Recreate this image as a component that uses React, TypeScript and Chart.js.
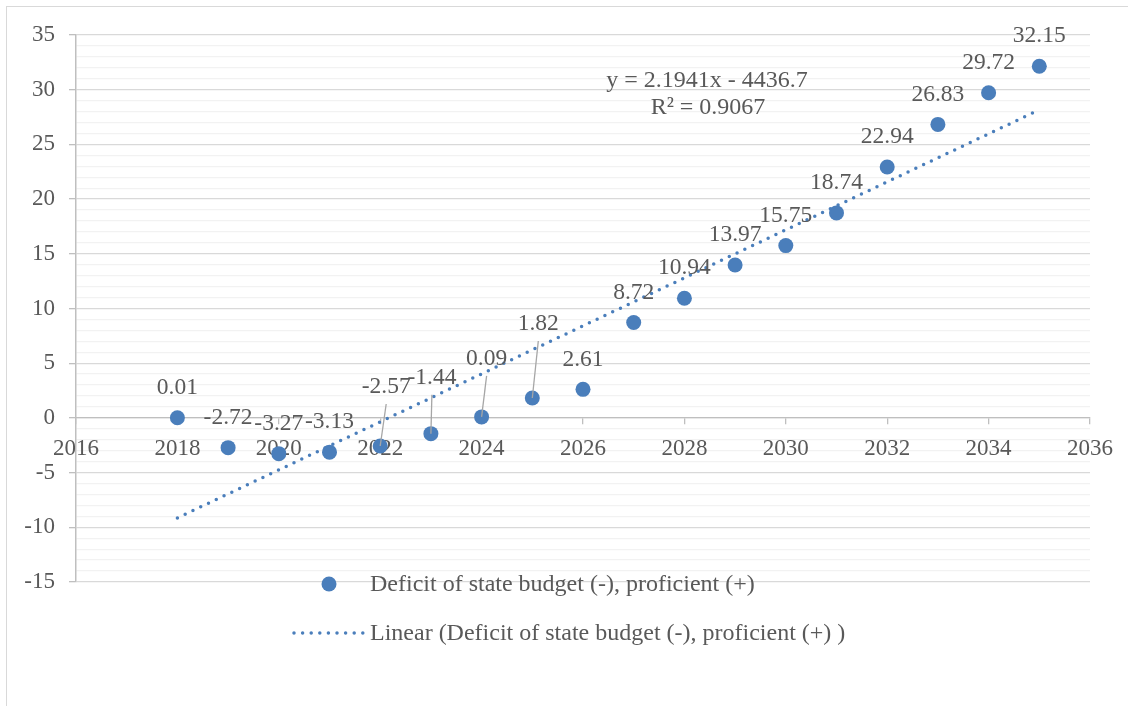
import React, { useEffect, useRef } from 'react';
import { Chart, registerables } from 'chart.js';

Chart.register(...registerables);

const years = [2018, 2019, 2020, 2021, 2022, 2023, 2024, 2025, 2026, 2027, 2028, 2029, 2030, 2031, 2032, 2033, 2034, 2035];
const values = [0.01, -2.72, -3.27, -3.13, -2.57, -1.44, 0.09, 1.82, 2.61, 8.72, 10.94, 13.97, 15.75, 18.74, 22.94, 26.83, 29.72, 32.15];
const valueLabels = ['0.01', '-2.72', '-3.27', '-3.13', '-2.57', '-1.44', '0.09', '1.82', '2.61', '8.72', '10.94', '13.97', '15.75', '18.74', '22.94', '26.83', '29.72', '32.15'];
const xMin = 2016;
const xMax = 2036;
const xStep = 2;
const yMin = -15;
const yMax = 35;
const yMajorStep = 5;
const seriesName = 'Deficit of state budget (-), proficient (+)';
const trendName = 'Linear (Deficit of state budget (-), proficient (+) )';
const equationText = 'y = 2.1941x - 4436.7';
const r2Text = 'R² = 0.9067';

// label nudges (px) for labels that Excel moved away from the default "above" spot
const labelNudges: Record<number, [number, number]> = {
  4: [6, -29],
  5: [1, -26],
  6: [5, -28],
  7: [6, -44],
};

const FONT = '"Liberation Serif", "Times New Roman", serif';
const TEXT = '#595959';
const BLUE = '#4a7ebb';

function linearFit(xs: number[], ys: number[]) {
  const n = xs.length;
  const mx = xs.reduce((a, b) => a + b, 0) / n;
  const my = ys.reduce((a, b) => a + b, 0) / n;
  let sxy = 0;
  let sxx = 0;
  for (let i = 0; i < n; i++) {
    sxy += (xs[i] - mx) * (ys[i] - my);
    sxx += (xs[i] - mx) * (xs[i] - mx);
  }
  const slope = sxy / sxx;
  return { slope, intercept: my - slope * mx };
}

const overlayPlugin = {
  id: 'overlay',
  afterDatasetsDraw(chart: any) {
    const ctx = chart.ctx;
    const meta = chart.getDatasetMeta(0);
    ctx.save();
    ctx.font = `23.5px ${FONT}`;
    ctx.fillStyle = TEXT;
    ctx.textAlign = 'center';
    ctx.textBaseline = 'middle';
    meta.data.forEach((el: any, i: number) => {
      const nudge = labelNudges[i];
      const lx = el.x + (nudge ? nudge[0] : 0);
      const ly = el.y - 30 + (nudge ? nudge[1] : 0);
      if (nudge) {
        ctx.save();
        ctx.strokeStyle = '#a6a6a6';
        ctx.lineWidth = 1.3;
        ctx.beginPath();
        ctx.moveTo(lx, ly + 17);
        ctx.lineTo(el.x, el.y);
        ctx.stroke();
        ctx.restore();
      }
      ctx.fillText(valueLabels[i], lx, ly);
    });

    // trendline equation
    ctx.font = `24px ${FONT}`;
    ctx.fillText(equationText, 707, 81);
    ctx.fillText(r2Text, 708, 108);

    // legend
    ctx.textAlign = 'left';
    ctx.fillStyle = BLUE;
    ctx.beginPath();
    ctx.arc(329, 584, 7.5, 0, Math.PI * 2);
    ctx.fill();
    ctx.fillStyle = TEXT;
    ctx.fillText(seriesName, 370, 585);

    ctx.strokeStyle = BLUE;
    ctx.lineWidth = 3.5;
    ctx.lineCap = 'round';
    ctx.setLineDash([0, 8.6]);
    ctx.beginPath();
    ctx.moveTo(294, 633);
    ctx.lineTo(364, 633);
    ctx.stroke();
    ctx.setLineDash([]);
    ctx.fillText(trendName, 370, 634);
    ctx.restore();
  },
};

export default function App() {
  const canvasRef = useRef<HTMLCanvasElement | null>(null);

  useEffect(() => {
    if (!canvasRef.current) return;
    const fit = linearFit(years, values);
    const trendX = [years[0], years[years.length - 1]];
    const trendData = trendX.map((x) => ({ x, y: fit.intercept + fit.slope * x }));
    const pointData = years.map((x, i) => ({ x, y: values[i] }));

    Chart.defaults.font.family = FONT;

    const chart = new Chart(canvasRef.current, {
      type: 'scatter',
      data: {
        datasets: [
          {
            label: seriesName,
            data: pointData,
            backgroundColor: BLUE,
            borderWidth: 0,
            pointRadius: 7.5,
            pointHoverRadius: 7.5,
            showLine: false,
            order: 1,
          } as any,
          {
            label: trendName,
            data: trendData,
            borderColor: BLUE,
            borderWidth: 3.5,
            borderDash: [0, 8.6],
            borderCapStyle: 'round',
            pointRadius: 0,
            showLine: true,
            fill: false,
            order: 0,
          } as any,
        ],
      },
      options: {
        responsive: false,
        animation: false,
        devicePixelRatio: 1,
        layout: { padding: { left: 0, right: 38, top: 35, bottom: 124 } },
        plugins: {
          legend: { display: false },
          tooltip: { enabled: false },
        },
        scales: {
          x: {
            type: 'linear',
            min: xMin,
            max: xMax,
            position: { y: 0 } as any,
            ticks: {
              stepSize: xStep,
              autoSkip: false,
              maxRotation: 0,
              padding: 11,
              color: TEXT,
              font: { size: 23, family: FONT },
              callback: (v: any) => String(v),
            },
            grid: {
              drawOnChartArea: false,
              drawTicks: true,
              tickLength: 6,
              color: '#bfbfbf',
              lineWidth: 1.3,
            },
            border: { display: true, color: '#bfbfbf', width: 1.3 },
          },
          y: {
            type: 'linear',
            min: yMin,
            max: yMax,
            afterFit: (scale: any) => {
              scale.width = 76;
            },
            ticks: {
              stepSize: 1,
              autoSkip: false,
              padding: 14,
              color: TEXT,
              font: { size: 23, family: FONT },
              callback: (v: any) => (Number(v) % yMajorStep === 0 ? String(v) : ''),
            },
            grid: {
              color: (c: any) => (c.tick && c.tick.value % yMajorStep === 0 ? '#d9d9d9' : '#f2f2f2'),
              tickColor: (c: any) => (c.tick && c.tick.value % yMajorStep === 0 ? '#bfbfbf' : 'rgba(0,0,0,0)'),
              tickLength: 7,
              lineWidth: 1.3,
            },
            border: { display: true, color: '#bfbfbf', width: 1.5 },
          },
        },
      },
      plugins: [overlayPlugin],
    });
    return () => chart.destroy();
  }, []);

  return (
    <div style={{ position: 'absolute', left: 0, top: 0, width: 1128, height: 706, overflow: 'hidden', background: '#fff' }}>
      <div
        style={{
          position: 'absolute',
          left: 6,
          top: 6,
          width: 1200,
          height: 800,
          border: '1px solid #d9d9d9',
          boxSizing: 'border-box',
        }}
      />
      <canvas ref={canvasRef} width={1128} height={706} style={{ position: 'absolute', left: 0, top: 0 }} />
    </div>
  );
}
